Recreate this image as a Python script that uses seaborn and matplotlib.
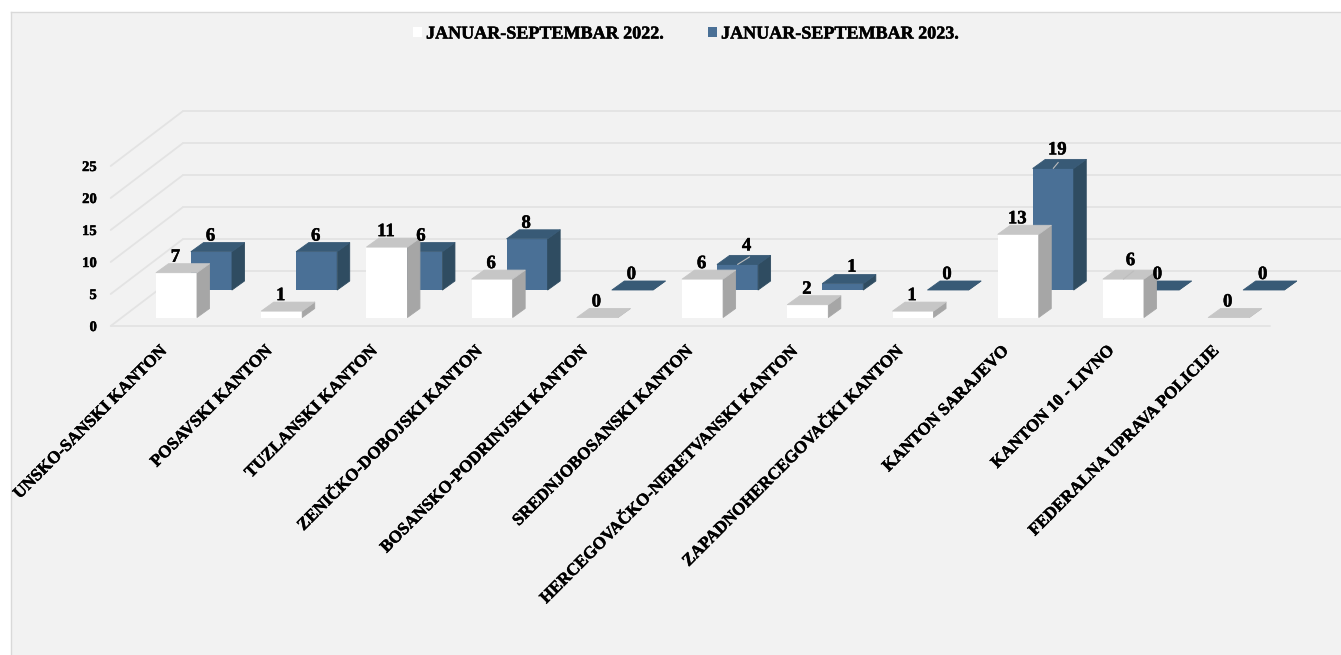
import numpy as np
import pandas as pd
import seaborn as sns
import matplotlib
matplotlib.use("Agg")
import matplotlib.pyplot as plt
import matplotlib.patheffects as pe
from matplotlib.patches import Polygon, Patch
from matplotlib.transforms import ScaledTranslation

# ---- data
cantons = ["UNSKO-SANSKI KANTON", "POSAVSKI KANTON", "TUZLANSKI KANTON",
           "ZENIČKO-DOBOJSKI KANTON", "BOSANSKO-PODRINJSKI KANTON",
           "SREDNJOBOSANSKI KANTON", "HERCEGOVAČKO-NERETVANSKI KANTON",
           "ZAPADNOHERCEGOVAČKI KANTON", "KANTON SARAJEVO",
           "KANTON 10 - LIVNO", "FEDERALNA UPRAVA POLICIJE"]
values_2022 = [7, 1, 11, 6, 0, 6, 2, 1, 13, 6, 0]
values_2023 = [6, 6, 6, 8, 0, 4, 1, 0, 19, 0, 0]
label_2022 = "JANUAR-SEPTEMBAR 2022."
label_2023 = "JANUAR-SEPTEMBAR 2023."
y_ticks = [0, 5, 10, 15, 20, 25]

# ---- layout (pixels)
W, H = 1341, 655
STEP = 105.22          # px per category
UNIT = 6.4             # px per value unit
BAR_W = 41.0
FRONT_X0, FRONT_BASE = 176.5, 317.5
BACK_DX, BACK_DY = 35.0, -27.5
DEPTH_X, DEPTH_Y = 12.5, 9.0
WALL_L, WALL_R, WALL_BASE = 110.7, 1270.0, 326.0
WALL_DX, WALL_DY = 72.0, 54.7

BG = "#f2f2f2"
GRID = "#e3e3e3"
SERIF = "Liberation Serif"
HEAVY = [pe.withStroke(linewidth=0.35, foreground="black")]

# hand-moved data labels of the original: (series, index) -> label nudge, leader end
NUDGE_2022 = {9: ((8, 3), (10, 8))}
NUDGE_2023 = {5: ((10, 3), (12, 7.5)), 6: ((10, 1), None), 8: ((5, 3), (5, 6))}

sns.set_theme(style="white", rc={"font.family": SERIF, "font.weight": "bold",
                                 "text.color": "black"})
fig = plt.figure(figsize=(W / 100, H / 100), dpi=100, facecolor="white")


def px_axes(left, base, width, height, **kw):
    """Axes placed by pixel box, y counted from the top of the image."""
    return fig.add_axes([left / W, 1 - base / H, width / W, height / H], **kw)


# panel
panel = fig.add_axes([10.5 / W, 0, 1 - 10.5 / W, 1 - 11.5 / H], zorder=0)
panel.set_xticks([]); panel.set_yticks([])
panel.set_facecolor(BG)
for side, sp in panel.spines.items():
    sp.set_color("#d9d9d9"); sp.set_linewidth(1.0)
    sp.set_visible(side in ("left", "top"))

# wall / floor axes with the value ticks
ax_wall = px_axes(WALL_L, WALL_BASE, WALL_R - WALL_L, 25 * UNIT, zorder=1)
ax_wall.patch.set_visible(False)
ax_wall.set_xlim(0, WALL_R - WALL_L)
ax_wall.set_ylim(0, 25)
sns.despine(ax=ax_wall, left=True, bottom=True)
ax_wall.set_xticks([])
ax_wall.set_yticks(y_ticks)
ax_wall.set_yticklabels([str(v) for v in y_ticks], fontsize=10.5,
                        fontweight="bold", color="black", family=SERIF,
                        path_effects=HEAVY)
ax_wall.tick_params(axis="y", length=0, pad=10)
dy_wall = WALL_DY / UNIT
back_right = W - WALL_L
for v in y_ticks:
    ax_wall.plot([0, WALL_DX], [v, v + dy_wall], color=GRID, lw=1.3, clip_on=False)
    ax_wall.plot([WALL_DX, back_right], [v + dy_wall] * 2, color=GRID, lw=1.3, clip_on=False)
ax_wall.plot([0, WALL_R - WALL_L], [0, 0], color=GRID, lw=1.3, clip_on=False)

frame = pd.DataFrame({"canton": cantons, "y2022": values_2022, "y2023": values_2023})


def bar_axes(col, x0, base, face, side_c, top_c, z):
    ax = px_axes(x0 - STEP / 2, base, STEP * len(cantons), 25 * UNIT, zorder=z)
    ax.patch.set_visible(False)
    sns.barplot(data=frame, x="canton", y=col, ax=ax, color=face, saturation=1,
                width=BAR_W / STEP, linewidth=0)
    ax.set_xlim(-0.5, len(cantons) - 0.5)
    ax.set_ylim(0, 25)
    ax.set_xlabel(""); ax.set_ylabel("")
    ax.set_yticks([])
    sns.despine(ax=ax, left=True, bottom=True)
    dx, dy = DEPTH_X / STEP, DEPTH_Y / UNIT
    for r in list(ax.patches):
        r.set_clip_on(False)
        x, w, h = r.get_x(), r.get_width(), r.get_height()
        ax.add_patch(Polygon([(x + w, 0), (x + w + dx, dy), (x + w + dx, h + dy), (x + w, h)],
                             closed=True, fc=side_c, ec=side_c, lw=0.6, joinstyle="round",
                             clip_on=False, zorder=1))
        ax.add_patch(Polygon([(x, h), (x + w, h), (x + w + dx, h + dy), (x + dx, h + dy)],
                             closed=True, fc=top_c, ec=top_c, lw=0.6, joinstyle="round",
                             clip_on=False, zorder=1))
    return ax


ax_back = bar_axes("y2023", FRONT_X0 + BACK_DX, FRONT_BASE + BACK_DY,
                   "#4a7096", "#2f4c61", "#385a76", 2)
ax_front = bar_axes("y2022", FRONT_X0, FRONT_BASE,
                    "#ffffff", "#a6a6a6", "#c6c6c6", 3)
ax_back.set_xticks([])

# category labels
ax_front.set_xticks(range(len(cantons)))
ax_front.set_xticklabels(cantons, rotation=45, ha="right", rotation_mode="anchor",
                         fontsize=12.3, fontweight="bold", color="black", family=SERIF,
                         path_effects=HEAVY)
ax_front.tick_params(axis="x", length=0, pad=0)
shift = ScaledTranslation(-17 / 100, -25 / 100, fig.dpi_scale_trans)
for t in ax_front.get_xticklabels():
    t.set_transform(t.get_transform() + shift)

# value labels drawn on top of every bar
for ax, vals, nudges in ((ax_back, values_2023, NUDGE_2023), (ax_front, values_2022, NUDGE_2022)):
    for i, v in enumerate(vals):
        (nx, ny), leader = nudges.get(i, ((0, 0), None))
        ax_front.annotate(str(v), xy=(i, v), xycoords=ax.transData,
                          xytext=(-1 + nx, 7 + ny), textcoords="offset pixels",
                          ha="center", va="bottom", fontsize=13.5, fontweight="bold",
                          color="black", family=SERIF, annotation_clip=False, zorder=6,
                          path_effects=HEAVY)
        if leader is not None:
            ax_front.annotate("", xy=(i, v), xycoords=ax.transData,
                              xytext=leader, textcoords="offset pixels",
                              arrowprops=dict(arrowstyle="-", color="#bdbdbd", lw=0.8,
                                              shrinkA=0, shrinkB=0),
                              annotation_clip=False, zorder=5)

# legend
handles = [Patch(fc="#ffffff", ec="none", label=label_2022),
           Patch(fc="#4a7096", ec="none", label=label_2023)]
leg = fig.legend(handles=handles, loc="center", bbox_to_anchor=(685.5 / W, 1 - 34 / H), ncol=2,
                 frameon=False, handlelength=0.5, handleheight=0.5, handletextpad=0.22,
                 columnspacing=2.5, labelcolor="black",
                 prop={"family": SERIF, "weight": "bold", "size": 13})
for t in leg.get_texts():
    t.set_path_effects(HEAVY)

fig.savefig("out.png", dpi=100, facecolor="white")
